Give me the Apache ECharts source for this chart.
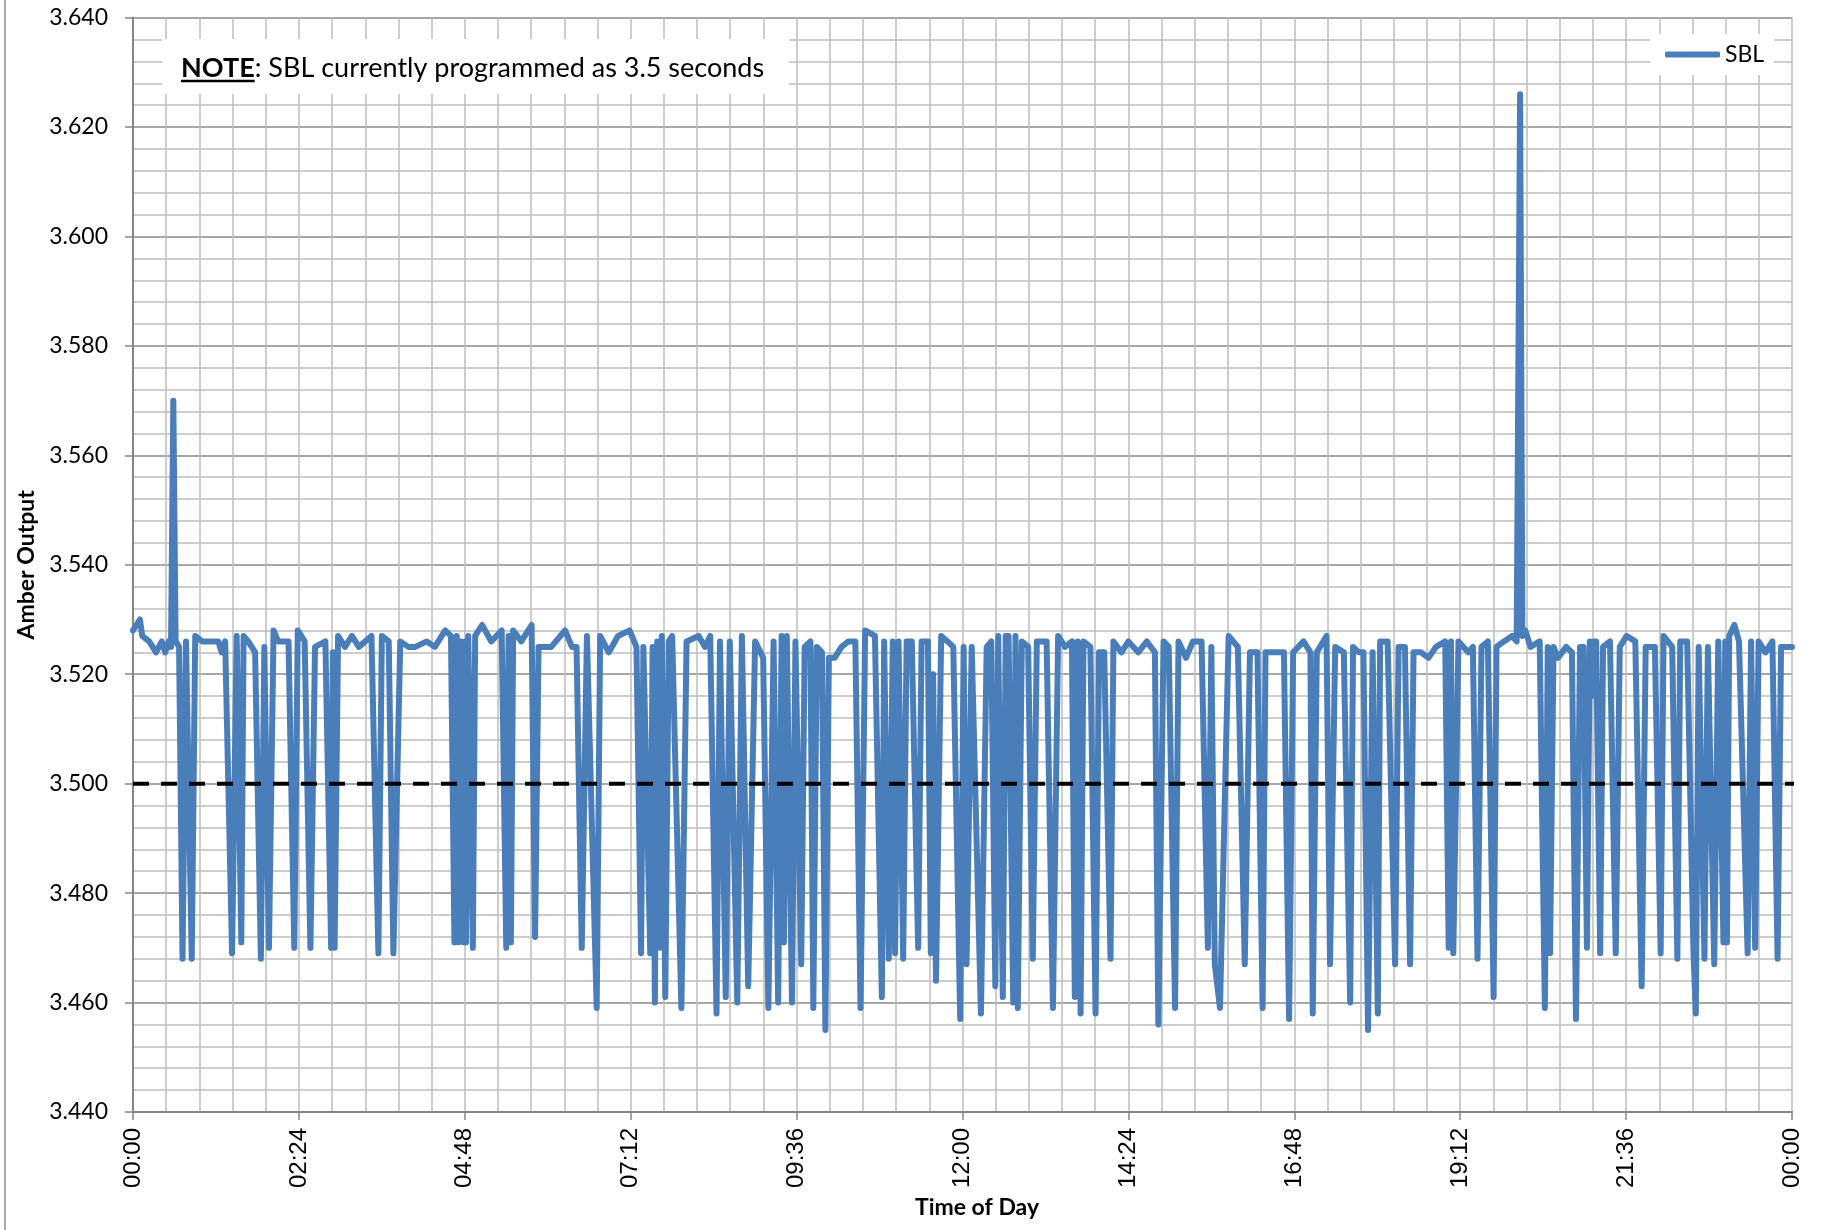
<!DOCTYPE html>
<html>
<head>
<meta charset="utf-8">
<script src="https://cdn.jsdelivr.net/npm/echarts@6/dist/echarts.min.js"></script>
<style>
html,body{margin:0;padding:0;background:#fff;}
#chart{width:1824px;height:1230px;}
</style>
</head>
<body>
<div id="chart"></div>
<script>
// ---- data (minutes since midnight, amber output in seconds) ----
const minutes = [
0,3,6,8,14,20,25,28,31,33,35,37,40,43,46,51,54,60,74,77,80,86,90,94,96,100,106,111,114,118,122,126,135,140,143,149,154,158,167,172,173.5,175,178,184,190,196,207,213,216,222,226,232,239,
245,255,262,271,276,279,281,282.5,284.5,287,288,289,291,295,297,303,311,320,324,326,328,330,337,346,349,352,363,375,381,385,389.5,394,402.5,405.5,413,421,431,437,441,443,449,451,453,455,457.5,459,462,465,468,476,480.5,
482,491,496.5,501,506.5,509.5,514.5,518,524.5,528.5,534,540,547,551.5,556,560,563,565,567.5,572,575,580,583,588,590.5,593.5,598,601,604,609,615,621,627,631.5,635.5,644,650,652,656,659.5,661.5,664.5,668.5,671.5,676,681.5,684.5,690,692.5,694.5,697,701.5,707,712,718,721,723.5,728,
736,741,745,748.5,751,755,757.5,760,764,766,768,771.5,777,781,784.5,793,798.5,803,809,815,817.5,820,822.5,825,831,835.5,838.5,843,848.5,851,858,864,872.5,880,887,890,894.5,899,904.5,907.5,914,920,927.5,933,936,939,943.5,951,959,965,969.5,
976,980.5,983,992,999,1003.5,1007,1016,1022,1024,1027.5,1036,1039,1043.5,1051,1056.5,1059,1064,1068,1072,1076,1080.5,1082.5,1089,1095.5,1098.5,1104,1108.5,1111.5,1118,1124.5,1131,1139,1142,1144,1146,1150.5,1159,1163,1167,1170.5,1176,1181,1183.5,1190,1197,1201,1204,1206,1208.5,
1213,1221,1225.5,1228,1230,1233,1237,1244,1249,1252.5,1256,1259,1262,1264.5,1266,1268,1270,1273.5,1276,1282,1287,1290.5,1296.5,1304,1309.5,1313,1321,1326,1328.5,1336,1340.5,1343,1349,1354.5,1356.5,1359,1364,1367,1372.5,1376,1380.5,1382,1383.5,1385.5,1390,1394,1401.5,1404.5,1408,1411,1417,1423,1427.5,1430.5,1436,1440
];
const amber = [
3.528,3.529,3.530,3.527,3.526,3.524,3.526,3.524,3.526,3.525,3.570,3.526,3.525,3.468,3.526,3.468,3.527,3.526,3.526,3.524,3.526,3.469,3.527,3.471,3.527,3.526,3.524,3.468,3.525,3.470,3.528,3.526,3.526,3.470,3.528,3.526,3.470,3.525,3.526,3.470,3.524,3.470,3.527,3.525,3.527,3.525,3.527,3.469,3.527,3.526,3.469,3.526,3.525,
3.525,3.526,3.525,3.528,3.527,3.471,3.527,3.471,3.526,3.471,3.526,3.471,3.527,3.470,3.527,3.529,3.526,3.528,3.470,3.527,3.471,3.528,3.526,3.529,3.472,3.525,3.525,3.528,3.525,3.525,3.470,3.527,3.459,3.527,3.524,3.527,3.528,3.525,3.469,3.525,3.469,3.525,3.460,3.526,3.470,3.527,3.461,3.526,3.527,3.459,3.526,
3.526,3.527,3.525,3.527,3.458,3.526,3.461,3.526,3.460,3.527,3.463,3.526,3.523,3.459,3.526,3.460,3.527,3.471,3.527,3.460,3.526,3.467,3.525,3.526,3.459,3.525,3.524,3.455,3.523,3.523,3.525,3.526,3.526,3.459,3.528,3.527,3.461,3.526,3.468,3.526,3.469,3.526,3.468,3.526,3.526,3.470,3.526,3.526,3.469,3.520,3.464,3.527,3.526,3.525,3.457,3.525,3.467,3.525,
3.458,3.525,3.526,3.463,3.527,3.461,3.527,3.527,3.460,3.527,3.459,3.526,3.525,3.468,3.526,3.526,3.459,3.527,3.525,3.526,3.461,3.526,3.458,3.526,3.525,3.458,3.524,3.524,3.468,3.526,3.524,3.526,3.524,3.526,3.524,3.456,3.526,3.525,3.459,3.526,3.523,3.526,3.526,3.470,3.525,3.467,3.459,3.527,3.525,3.467,3.524,
3.524,3.459,3.524,3.524,3.524,3.457,3.524,3.526,3.524,3.458,3.524,3.527,3.467,3.525,3.524,3.460,3.525,3.524,3.524,3.455,3.524,3.458,3.526,3.526,3.467,3.525,3.525,3.467,3.524,3.524,3.523,3.525,3.526,3.470,3.526,3.469,3.526,3.524,3.525,3.468,3.525,3.526,3.461,3.525,3.526,3.527,3.526,3.626,3.527,3.528,
3.525,3.526,3.459,3.525,3.469,3.525,3.523,3.525,3.524,3.457,3.525,3.525,3.470,3.526,3.516,3.526,3.526,3.469,3.525,3.526,3.469,3.525,3.527,3.526,3.463,3.525,3.525,3.469,3.527,3.525,3.468,3.526,3.526,3.469,3.458,3.525,3.468,3.525,3.467,3.526,3.471,3.526,3.471,3.527,3.529,3.526,3.469,3.526,3.470,3.526,3.524,3.526,3.468,3.525,3.525,3.525
];
const programmedSBL = 3.5;
const refMinutes = [0, 1449];
const seriesName = 'SBL';
const xTitle = 'Time of Day';
const yTitle = 'Amber Output';
const noteLabel = 'NOTE';
const noteText = ': SBL currently programmed as 3.5 seconds';

const sblData = minutes.map((m, i) => [m, amber[i]]);
const refData = refMinutes.map(m => [m, programmedSBL]);

function fmtTime(v) {
  const t = Math.round(v) % 1440;
  const h = Math.floor(t / 60), m = t % 60;
  return String(h).padStart(2, '0') + ':' + String(m).padStart(2, '0');
}

// measure "NOTE" width for underline
const cv = document.createElement('canvas').getContext('2d');
const noteFontSize = 27;
cv.font = 'bold ' + noteFontSize + 'px Lato';
const noteW = cv.measureText(noteLabel).width;

const chart = echarts.init(document.getElementById('chart'), null, {renderer: 'canvas'});
const noteX = 181, noteY = 68;
chart.setOption({
  animation: false,
  backgroundColor: '#fff',
  grid: {left: 133, right: 32, top: 17.6, bottom: 118, containLabel: false},
  legend: {
    data: [seriesName], left: 1650, top: 34,
    backgroundColor: '#fff', padding: [9, 10, 9, 15],
    itemWidth: 55, itemHeight: 6, icon: 'roundRect',
    textStyle: {fontFamily: 'Lato', fontSize: 23, color: '#000'}
  },
  xAxis: {
    type: 'value', min: 0, max: 1440, interval: 144,
    name: xTitle, nameLocation: 'middle', nameGap: 78,
    nameTextStyle: {fontFamily: 'Lato', fontWeight: 'bold', fontSize: 23, color: '#000', padding: [0, 0, 0, 29]},
    axisLine: {show: true, onZero: false, lineStyle: {color: '#868686', width: 2}},
    axisTick: {show: true, length: 8, lineStyle: {color: '#868686', width: 1.5}},
    minorTick: {show: false, splitNumber: 5},
    axisLabel: {rotate: 90, margin: 16, formatter: fmtTime, fontFamily: 'Liberation Sans', fontSize: 24, color: '#000'},
    splitLine: {show: true, lineStyle: {color: '#bdbdbd', width: 1.5}},
    minorSplitLine: {show: true, lineStyle: {color: '#bdbdbd', width: 1.5}}
  },
  yAxis: {
    type: 'value', min: 3.44, max: 3.64, interval: 0.02,
    name: yTitle, nameLocation: 'middle', nameGap: 95,
    nameTextStyle: {fontFamily: 'Lato', fontWeight: 'bold', fontSize: 23, color: '#000'},
    axisLine: {show: true, lineStyle: {color: '#868686', width: 2}},
    axisTick: {show: true, length: 8, lineStyle: {color: '#868686', width: 1.5}},
    minorTick: {show: false, splitNumber: 5},
    axisLabel: {margin: 25, formatter: v => v.toFixed(3), fontFamily: 'Lato', fontSize: 23, color: '#000'},
    splitLine: {show: true, lineStyle: {color: '#8a8a8a', width: 1.5}},
    minorSplitLine: {show: true, lineStyle: {color: '#bdbdbd', width: 1.5}}
  },
  series: [
    {
      name: seriesName, type: 'line', data: sblData, symbol: 'none', smooth: false,
      color: '#4a7ebb',
      lineStyle: {color: '#4a7ebb', width: 6, join: 'round', cap: 'round'},
      z: 3
    },
    {
      name: 'Programmed', type: 'line', data: refData, symbol: 'none', clip: false,
      lineStyle: {color: '#000', width: 4, type: [16, 12]},
      z: 5, silent: true
    }
  ],
  graphic: [
    {type: 'line', shape: {x1: 5, y1: 0, x2: 5, y2: 1230}, style: {stroke: '#8c8c8c', lineWidth: 1.5}, z: 10},
    {type: 'rect', shape: {x: 162, y: 39, width: 627, height: 55}, style: {fill: '#fff'}, z: 10},
    {type: 'text', x: noteX, y: noteY, z: 11,
      style: {
        text: '{b|' + noteLabel + '}' + noteText,
        font: noteFontSize + 'px Lato', fill: '#000', verticalAlign: 'middle', align: 'left',
        rich: {b: {fontWeight: 'bold', fontFamily: 'Lato', fontSize: noteFontSize, fill: '#000'}}
      }
    },
    {type: 'line', shape: {x1: noteX, y1: noteY + 13, x2: noteX + noteW, y2: noteY + 13}, style: {stroke: '#000', lineWidth: 2.5}, z: 11}
  ]
});
</script>
</body>
</html>
